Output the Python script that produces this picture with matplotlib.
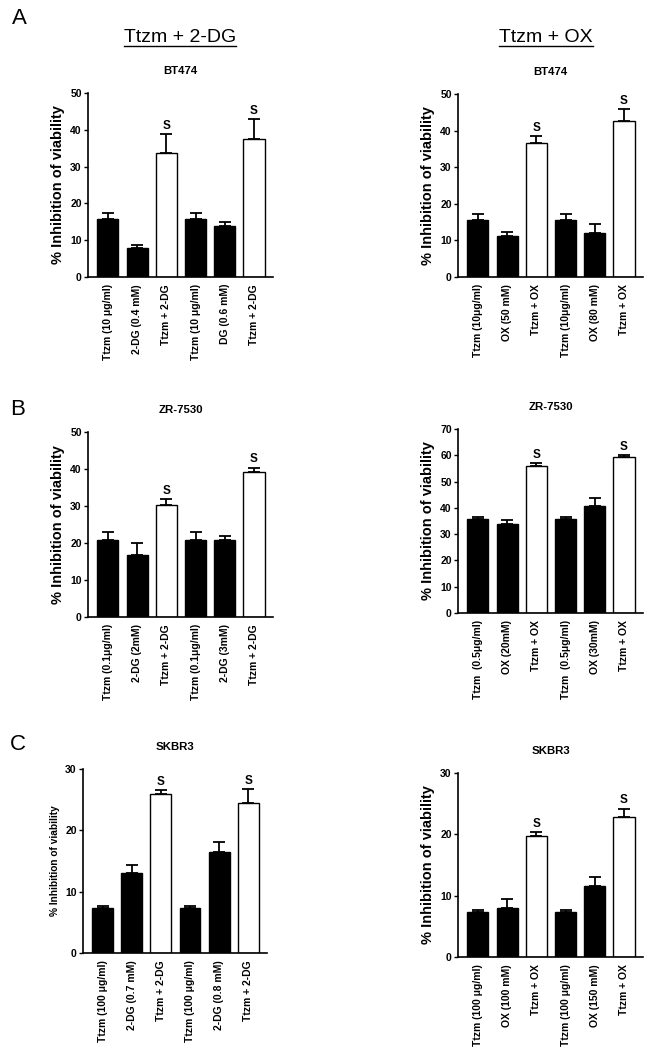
import matplotlib
matplotlib.use("Agg")
import matplotlib.pyplot as plt
from matplotlib.lines import Line2D

plt.rcParams['font.family'] = ['Liberation Sans', 'DejaVu Sans']

# ---- data ----
labels_A_dg = ["Ttzm (10 μg/ml)", "2-DG (0.4 mM)", "Ttzm + 2-DG",
               "Ttzm (10 μg/ml)", "DG (0.6 mM)", "Ttzm + 2-DG"]
vals_A_dg = [15.7, 7.9, 33.6, 15.7, 13.9, 37.6]
err_A_dg = [1.6, 0.8, 5.2, 1.6, 1.1, 5.3]

labels_A_ox = ["Ttzm (10μg/ml)", "OX (50 mM)", "Ttzm + OX",
               "Ttzm (10μg/ml)", "OX (80 mM)", "Ttzm + OX"]
vals_A_ox = [15.7, 11.3, 36.7, 15.7, 12.1, 42.5]
err_A_ox = [1.6, 0.9, 1.9, 1.6, 2.5, 3.4]

labels_B_dg = ["Ttzm (0.1μg/ml)", "2-DG (2mM)", "Ttzm + 2-DG",
               "Ttzm (0.1μg/ml)", "2-DG (3mM)", "Ttzm + 2-DG"]
vals_B_dg = [20.8, 16.7, 30.3, 20.8, 20.8, 39.1]
err_B_dg = [2.3, 3.4, 1.6, 2.3, 1.0, 1.3]

labels_B_ox = ["Ttzm  (0.5μg/ml)", "OX (20mM)", "Ttzm + OX",
               "Ttzm  (0.5μg/ml)", "OX (30mM)", "Ttzm + OX"]
vals_B_ox = [35.6, 33.9, 56.1, 35.6, 40.6, 59.4]
err_B_ox = [0.8, 1.3, 0.9, 0.8, 3.3, 0.8]

labels_C_dg = ["Ttzm (100 μg/ml)", "2-DG (0.7 mM)", "Ttzm + 2-DG",
               "Ttzm (100 μg/ml)", "2-DG (0.8 mM)", "Ttzm + 2-DG"]
vals_C_dg = [7.4, 13.0, 25.9, 7.4, 16.5, 24.4]
err_C_dg = [0.2, 1.3, 0.6, 0.3, 1.6, 2.3]

labels_C_ox = ["Ttzm (100 μg/ml)", "OX (100 mM)", "Ttzm + OX",
               "Ttzm (100 μg/ml)", "OX (150 mM)", "Ttzm + OX"]
vals_C_ox = [7.4, 8.0, 19.8, 7.4, 11.5, 22.8]
err_C_ox = [0.2, 1.4, 0.6, 0.2, 1.5, 1.4]

fills = ["black", "black", "white", "black", "black", "white"]
sig = ["", "", "S", "", "", "S"]

W, H = 649, 1050
fig = plt.figure(figsize=(W / 100, H / 100), dpi=100)


def px_axes(x0, x1, ytop, ybot):
    return fig.add_axes([x0 / W, 1 - ybot / H, (x1 - x0) / W, (ybot - ytop) / H])


def panel(rect, title, labels, vals, errs, ymax, ystep, ylabsize=10.5):
    ax = px_axes(*rect)
    x = list(range(len(vals)))
    ax.bar(x, vals, width=0.72, color=fills, edgecolor="black", linewidth=1.0, zorder=2)
    ax.errorbar(x, vals, yerr=[[0] * len(errs), errs], fmt="none", ecolor="black",
                elinewidth=1.3, capsize=4.2, capthick=1.3, zorder=1)
    for xi, v, e, s in zip(x, vals, errs, sig):
        if s:
            ax.annotate(s, (xi, v + e), xytext=(0, 1.5), textcoords="offset points",
                        ha="center", va="bottom", fontsize=8.5, fontweight="bold")
    ax.set_xlim(-0.68, 5.65)
    ax.set_ylim(0, ymax)
    ax.set_yticks(range(0, ymax + 1, ystep))
    ax.set_xticks(x)
    ax.set_xticklabels(labels, rotation=90, fontsize=7.5, fontweight="bold")
    ax.tick_params(axis="x", length=0, pad=5)
    ax.tick_params(axis="y", length=3, width=1, pad=1.5, labelsize=7.5)
    for lab in ax.get_yticklabels():
        lab.set_fontweight("bold")
    for sp in ["top", "right"]:
        ax.spines[sp].set_visible(False)
    for sp in ["left", "bottom"]:
        ax.spines[sp].set_linewidth(1.2)
    ax.set_ylabel("% Inhibition of viability", fontsize=ylabsize, fontweight="bold", labelpad=4)
    ax.set_title(title, fontsize=8.2, fontweight="bold", pad=14)
    return ax


panel((88, 273, 93, 277), "BT474", labels_A_dg, vals_A_dg, err_A_dg, 50, 10)
panel((458, 643, 94, 277), "BT474", labels_A_ox, vals_A_ox, err_A_ox, 50, 10)
panel((88, 273, 432, 617), "ZR-7530", labels_B_dg, vals_B_dg, err_B_dg, 50, 10)
panel((458, 643, 429, 613), "ZR-7530", labels_B_ox, vals_B_ox, err_B_ox, 70, 10)
panel((83, 267, 769, 953), "SKBR3", labels_C_dg, vals_C_dg, err_C_dg, 30, 10, ylabsize=7.3)
panel((458, 643, 773, 957), "SKBR3", labels_C_ox, vals_C_ox, err_C_ox, 30, 10)

# panel letters
fig.text(12 / W, 1 - 18 / H, "A", fontsize=16, ha="left", va="center")
fig.text(10 / W, 1 - 410 / H, "B", fontsize=16, ha="left", va="center")
fig.text(10 / W, 1 - 745 / H, "C", fontsize=16, ha="left", va="center")

# headers with underline
headers = [("Ttzm + 2-DG", 180), ("Ttzm + OX", 546)]
fig.canvas.draw()
renderer = fig.canvas.get_renderer()
for txt, xc in headers:
    t = fig.text(xc / W, 1 - 37 / H, txt, fontsize=14, ha="center", va="center")
    bb = t.get_window_extent(renderer=renderer)
    x0, x1 = bb.x0 / W, bb.x1 / W
    yl = 1 - 46 / H
    fig.add_artist(Line2D([x0, x1], [yl, yl], color="black", linewidth=1.0,
                          transform=fig.transFigure))

fig.savefig("out.png", dpi=100)
